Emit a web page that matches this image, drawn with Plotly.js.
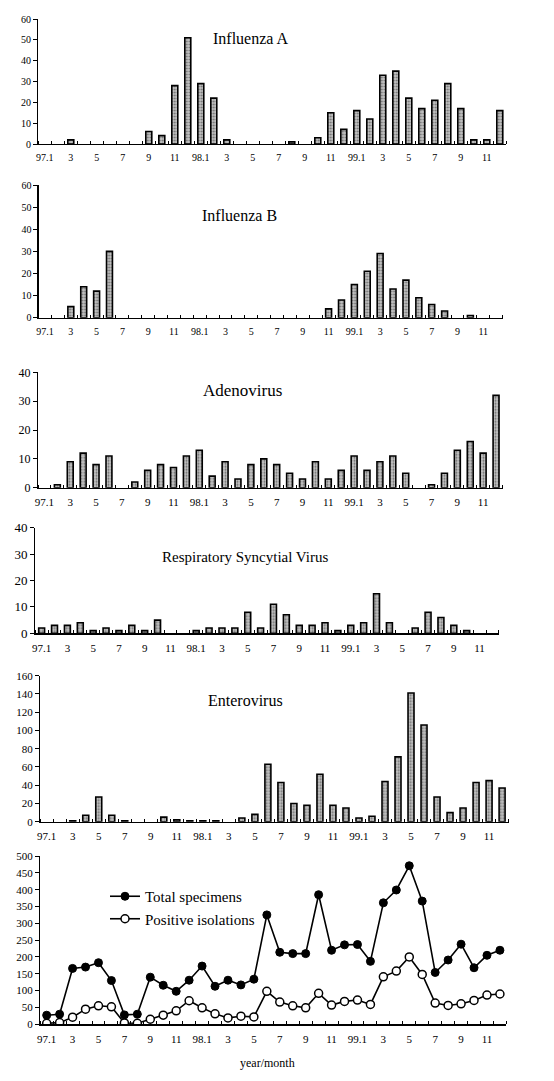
<!DOCTYPE html>
<html><head><meta charset="utf-8">
<script src="https://cdn.plot.ly/plotly-3.0.1.min.js"></script>
<style>html,body{margin:0;padding:0;background:#fff;}#chart{width:554px;height:1081px;}</style>
</head><body><div id="chart"></div>
<script>
// Month tick labels (every second month, 1997.1 - 1999.11)
const tickLabels = ['97.1','3','5','7','9','11','98.1','3','5','7','9','11','99.1','3','5','7','9','11'];

// Monthly counts, Jan 1997 .. Dec 1999
const influenzaA = [0,0,2,0,0,0,0,0,6,4,28,51,29,22,2,0,0,0,0,1,0,3,15,7,16,12,33,35,22,17,21,29,17,2,2,16];
const influenzaB = [0,0,5,14,12,30,0,0,0,0,0,0,0,0,0,0,0,0,0,0,0,0,4,8,15,21,29,13,17,9,6,3,0,1,0,0];
const adenovirus = [0,1,9,12,8,11,0,2,6,8,7,11,13,4,9,3,8,10,8,5,3,9,3,6,11,6,9,11,5,0,1,5,13,16,12,32];
const rsv = [2,3,3,4,1,2,1,3,1,5,0,0,1,2,2,2,8,2,11,7,3,3,4,1,3,4,15,4,0,2,8,6,3,1,0,0];
const enterovirus = [0,0,1,7,27,7,1,0,0,5,2,1,1,1,0,4,8,63,43,20,18,52,18,15,4,6,44,71,141,106,27,10,15,43,45,37];
const totalSpecimens = [27,30,166,170,183,130,28,30,140,116,98,131,173,113,131,117,134,325,214,210,210,385,220,236,237,187,361,399,471,366,154,191,238,168,205,220];
const positiveIsolations = [3,5,21,45,55,52,4,3,15,27,40,70,49,31,19,24,22,98,66,55,49,92,57,68,72,59,141,158,200,148,63,56,61,71,87,90];

const seriesNames = ['Influenza A','Influenza B','Adenovirus','Respiratory Syncytial Virus','Enterovirus'];
const lineNames = ['Total specimens','Positive isolations'];

const W = 554, H = 1081;
const FONT = 'Liberation Serif, Times New Roman, serif';
const monthIdx = influenzaA.map((_, i) => i + 1);
const tickPos = tickLabels.map((_, k) => 2 * k + 1);

// layout geometry per panel (pixels)
const panels = [
  {data: influenzaA, ymax: 60, dtick: 10, px: [38.3, 506.3], py: [19, 144], t: [251, 38, 16], xs: 10, ys: 10},
  {data: influenzaB, ymax: 60, dtick: 10, px: [38.6, 502.6], py: [185, 317.7], t: [239, 215, 16], xs: 10, ys: 10},
  {data: adenovirus, ymax: 40, dtick: 10, px: [38, 502.5], py: [372.3, 487.7], t: [242, 390, 17], xs: 11, ys: 12},
  {data: rsv, ymax: 40, dtick: 10, px: [35.2, 498.9], py: [527.7, 633.3], t: [245, 557, 15], xs: 11, ys: 13},
  {data: enterovirus, ymax: 160, dtick: 20, px: [40.2, 508.6], py: [675.7, 821.7], t: [245, 700, 16], xs: 11, ys: 11},
  {data: null, ymax: 500, dtick: 50, px: [40.2, 506.4], py: [856, 1024.3], xs: 11, ys: 11}
];

const traces = [];
const layout = {
  width: W, height: H,
  margin: {l: 0, r: 0, t: 0, b: 0},
  paper_bgcolor: '#fff', plot_bgcolor: '#fff',
  font: {family: FONT, color: '#000'},
  showlegend: true,
  legend: {x: 105 / W, y: 1 - 880 / H, xanchor: 'left', yanchor: 'top',
           font: {family: FONT, size: 15, color: '#000'}, bgcolor: 'rgba(0,0,0,0)',
           tracegroupgap: 0, itemwidth: 30},
  annotations: [],
  bargap: 0.5
};

panels.forEach((p, k) => {
  const n = k + 1;
  const xa = 'xaxis' + (n === 1 ? '' : n), ya = 'yaxis' + (n === 1 ? '' : n);
  const xr = 'x' + (n === 1 ? '' : n), yr = 'y' + (n === 1 ? '' : n);
  layout[xa] = {
    domain: [p.px[0] / W, p.px[1] / W], anchor: yr,
    range: [0.5, 36.5], tickmode: 'array', tickvals: tickPos, ticktext: tickLabels,
    ticks: '', showline: true, linecolor: '#000', linewidth: 1.2,
    showgrid: false, zeroline: false, fixedrange: true,
    tickfont: {family: FONT, size: p.xs, color: '#000'},
    ticklabelstandoff: 4,
    minor: {ticks: 'inside', ticklen: 3, tickmode: 'linear', tick0: 0.5, dtick: 1, tickcolor: '#000', tickwidth: 1, showgrid: false}
  };
  layout[ya] = {
    domain: [1 - p.py[1] / H, 1 - p.py[0] / H], anchor: xr,
    range: [0, p.ymax], dtick: p.dtick, tick0: 0,
    showline: true, linecolor: '#000', linewidth: 1.2,
    ticks: 'outside', ticklen: 4, tickcolor: '#000', tickwidth: 1,
    showgrid: false, zeroline: false, fixedrange: true,
    tickfont: {family: FONT, size: p.ys, color: '#000'}
  };
  if (p.data) {
    traces.push({
      type: 'bar', x: monthIdx, y: p.data.map(v => (v === 0 ? null : v)),
      xaxis: xr, yaxis: yr, width: 0.46,
      showlegend: false, hoverinfo: 'skip',
      marker: {color: '#b4b4b4', line: {color: '#000', width: 1.6},
               pattern: {shape: '.', fgcolor: '#6e6e6e', bgcolor: '#c4c4c4', size: 3, solidity: 0.35}}
    });
    layout.annotations.push({
      xref: 'paper', yref: 'paper', x: p.t[0] / W, y: 1 - p.t[1] / H,
      xanchor: 'center', yanchor: 'middle', showarrow: false,
      text: seriesNames[k], font: {family: FONT, size: p.t[2], color: '#000'}
    });
  } else {
    traces.push({
      type: 'scatter', mode: 'lines+markers', name: lineNames[0],
      x: monthIdx, y: totalSpecimens, xaxis: xr, yaxis: yr,
      line: {color: '#000', width: 1.6},
      marker: {symbol: 'circle', size: 8, color: '#000', line: {color: '#000', width: 1}}
    });
    traces.push({
      type: 'scatter', mode: 'lines+markers', name: lineNames[1],
      x: monthIdx, y: positiveIsolations, xaxis: xr, yaxis: yr,
      line: {color: '#000', width: 1.6},
      marker: {symbol: 'circle', size: 8, color: '#fff', line: {color: '#000', width: 1.5}}
    });
    layout.annotations.push({
      xref: 'paper', yref: 'paper', x: 267 / W, y: 1 - 1063 / H,
      xanchor: 'center', yanchor: 'middle', showarrow: false,
      text: 'year/month', font: {family: FONT, size: 12, color: '#000'}
    });
  }
});

Plotly.newPlot('chart', traces, layout, {staticPlot: true, displayModeBar: false});
</script>
</body></html>
